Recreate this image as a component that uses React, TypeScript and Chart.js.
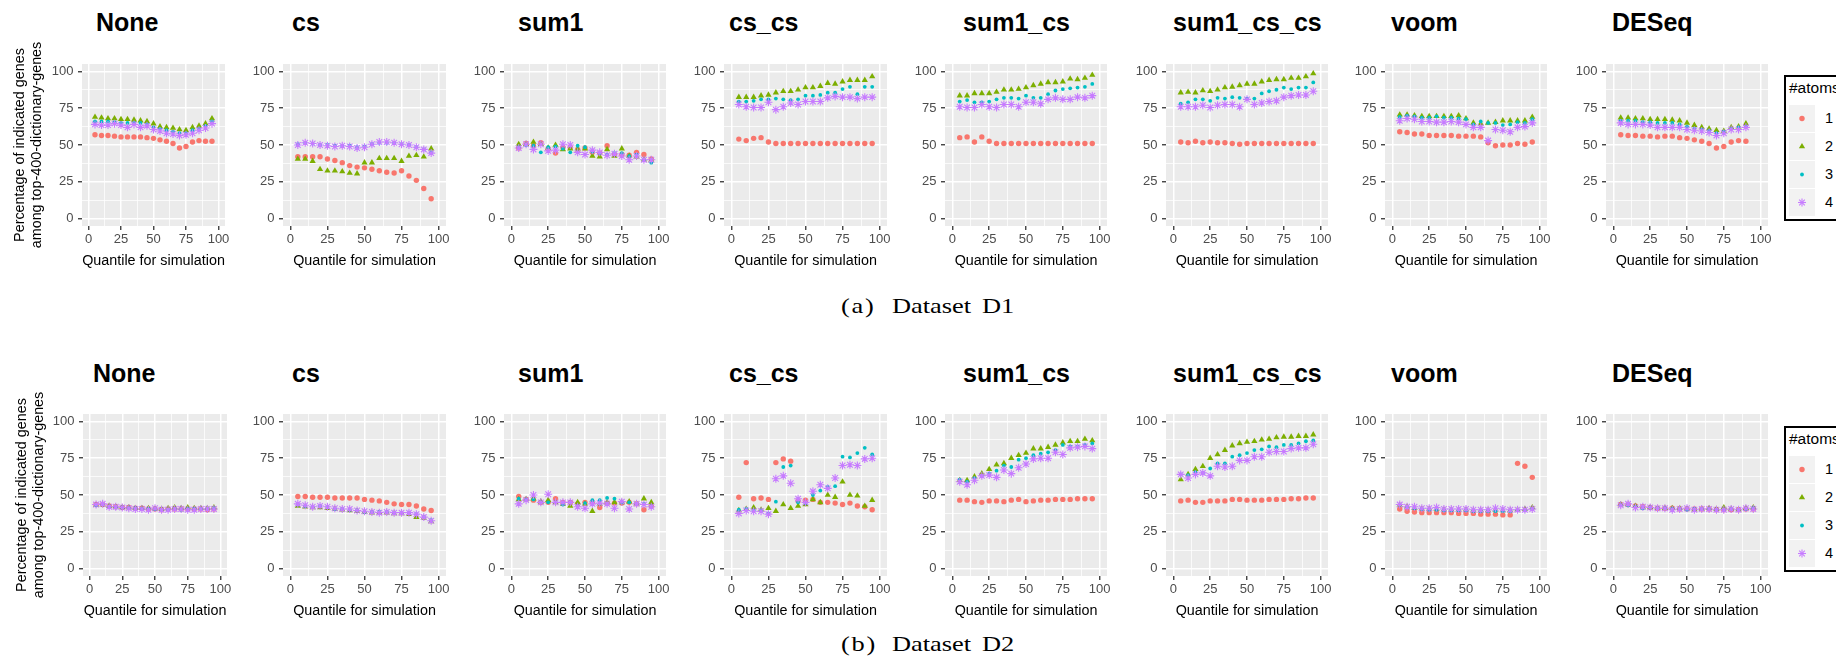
import React, { useEffect, useRef } from 'react';
import { Chart, registerables } from 'chart.js';

Chart.register(...registerables);

// ---- data -------------------------------------------------------------

const QUANTILES = [5, 10, 15, 20, 25, 30, 35, 40, 45, 50, 55, 60, 65, 70, 75, 80, 85, 90, 95];
const METHODS = ['None', 'cs', 'sum1', 'cs_cs', 'sum1_cs', 'sum1_cs_cs', 'voom', 'DESeq'];
const ATOM_LEVELS = ['1', '2', '3', '4'];
const AXIS_LABEL_TICKS = [0, 25, 50, 75, 100];
const GRID_TICKS = [0, 12.5, 25, 37.5, 50, 62.5, 75, 87.5, 100];
const X_TITLE = 'Quantile for simulation';
const Y_TITLE = ['Percentage of indicated genes', 'among top-400-dictionary-genes'];
const LEGEND_TITLE = '#atoms';
const CAPTIONS = [
  ['(a)', 'Dataset', 'D1'],
  ['(b)', 'Dataset', 'D2'],
];

// Dataset D1: one row per #atoms (1..4), one value per quantile
const D1_NONE = [
  [57, 56.5, 56.5, 56, 55.5, 55.5, 55.5, 55.5, 55, 54.5, 53.5, 52.5, 51, 48, 49, 52, 53, 52.5, 52.5],
  [69, 68.5, 68, 68, 67.5, 67.5, 67, 66.5, 66, 64.5, 62.5, 62, 61.5, 60.5, 60, 62, 63, 64.5, 68],
  [66, 66, 66, 65.5, 65, 65, 65, 65, 64, 62, 61, 60, 59, 58, 58, 60, 61, 63, 66],
  [64, 63.5, 63.5, 64.5, 63.5, 62, 64, 62, 63, 60.5, 59.5, 58, 57.5, 56.5, 57, 58, 60, 61.5, 64.5],
];
const D1_CS = [
  [42, 42, 42, 42, 40.5, 39.5, 38, 36, 35, 34.5, 33.5, 32.5, 31.5, 31, 32.5, 29, 26, 20.5, 13.5],
  [40.5, 40.5, 39, 33.5, 32.5, 32.5, 32, 31, 30.5, 38, 38, 41, 41, 41, 39, 42.5, 43, 42, 47.5],
  [50.5, 51.5, 51, 50, 50, 49.5, 49.5, 49.5, 48.5, 49, 50.5, 51.5, 51.5, 51.5, 50.5, 50, 48.5, 47, 45],
  [50, 51.5, 51, 50, 49.5, 49, 49.5, 49, 48, 48.5, 50.5, 52, 52, 51.5, 50.5, 50, 48.5, 47, 44.5],
];
const D1_SUM1 = [
  [48, 51, 49.5, 51.5, 47.5, 44.5, 48.5, 48.5, 47, 48, 45, 44.5, 49.5, 43.5, 43.5, 43, 45, 43.5, 40.5],
  [50.5, 50.5, 52, 50.5, 48, 50, 47, 47.5, 47, 47.5, 42.5, 42, 47, 42.5, 47.5, 42.5, 42, 40, 39.5],
  [48.5, 50, 49.5, 45, 48.5, 49, 47.5, 45, 49.5, 48.5, 45.5, 44.5, 43.5, 44.5, 44.5, 42.5, 43.5, 40, 38],
  [48, 50.5, 47, 50.5, 46, 46.5, 50.5, 50, 45, 43.5, 46.5, 45, 43, 44, 42.5, 40, 42.5, 40, 40],
];
const D1_CS_CS = [
  [54, 53, 54.5, 55, 52, 51, 51, 51, 51, 51, 51, 51, 51, 51, 51, 51, 51, 51, 51],
  [82.5, 82.5, 82.5, 83.5, 84, 85.5, 86.5, 86.5, 87.5, 89, 89, 90, 92, 91.5, 93, 94, 94, 94, 96.5],
  [79.5, 79.5, 80, 81, 81, 81.5, 81, 80.5, 81, 83.5, 83.5, 84, 85.5, 85.5, 88, 89.5, 84.5, 89.5, 89.5],
  [77.5, 76, 75.5, 75.5, 79, 74, 76, 78.5, 77.5, 79.5, 79.5, 79.5, 82, 83, 82.5, 82.5, 81.5, 82.5, 82.5],
];
const D1_SUM1_CS = [
  [55, 55.5, 52, 55.5, 52.5, 51, 51, 51, 51, 51, 51, 51, 51, 51, 51, 51, 51, 51, 51],
  [83.5, 83.5, 85, 85, 85, 86, 87.5, 87.5, 88, 89, 90.5, 91.5, 92.5, 92.5, 93, 95, 94.5, 95.5, 97.5],
  [79.5, 80.5, 79, 79, 79.5, 81, 82, 82, 81.5, 83.5, 82, 82, 84.5, 87, 88, 88.5, 89, 89.5, 91.5],
  [76, 75.5, 75.5, 77.5, 76, 75.5, 77.5, 77.5, 76, 79, 79, 78, 81, 82, 81, 81, 82.5, 82, 83.5],
];
const D1_SUM1_CS_CS = [
  [52, 51.5, 52.5, 51.5, 52, 51.5, 51.5, 51, 50.5, 51, 51, 51, 51, 51, 51, 51, 51, 51, 51],
  [85.5, 86, 85.5, 87, 86.5, 87.5, 89, 89.5, 90.5, 91.5, 91.5, 93, 94, 94.5, 94.5, 95.5, 95.5, 96.5, 98.5],
  [78, 79, 81, 81, 80, 82, 81.5, 82.5, 82, 81.5, 81.5, 85, 86.5, 87.5, 89, 88, 89, 89, 92.5],
  [76, 76, 76, 77, 75.5, 77, 77.5, 77.5, 76, 81, 77.5, 78.5, 79.5, 80, 82.5, 83.5, 84, 84, 86.5],
];
const D1_VOOM = [
  [59, 58.5, 57.5, 57.5, 56.5, 56.5, 56.5, 56.5, 56, 56, 56, 55.5, 51.5, 49.5, 50, 50, 51, 50.5, 52],
  [70.5, 70.5, 70, 69.5, 69.5, 69.5, 69.5, 69.5, 70, 68, 65, 64.5, 65, 65.5, 66.5, 66.5, 66.5, 66.5, 69],
  [69, 70, 69.5, 68.5, 68.5, 69.5, 68.5, 68.5, 68, 67.5, 64, 66, 65, 65, 63.5, 64, 65.5, 65, 67.5],
  [66.5, 68, 67.5, 66, 66, 65.5, 65.5, 66, 65.5, 64, 62, 62, 53, 60.5, 60, 59, 62, 62.5, 65],
];
const D1_DESEQ = [
  [57, 56.5, 56.5, 56, 56, 55.5, 56, 56, 55, 54.5, 53.5, 52.5, 51, 48, 49, 52, 53, 52.5, null],
  [68.5, 68.5, 68, 68, 67.5, 67.5, 67.5, 67, 66.5, 65, 63.5, 62, 61, 60, 59.5, 62, 62.5, 64.5, null],
  [66.5, 66.5, 66.5, 65.5, 65.5, 65, 65, 65, 64, 62.5, 61, 60.5, 59.5, 58, 59, 61, 62, 62.5, null],
  [65, 64, 64, 64, 63.5, 62, 62, 62, 62, 60.5, 60, 59.5, 58.5, 56.5, 58, 60.5, 60.5, 62, null],
];

// Dataset D2
const D2_NONE = [
  [43.5, 43.5, 42.5, 42, 41.5, 41.5, 41, 41, 40.5, 40.5, 40, 40.5, 40.5, 40.5, 40.5, 40.5, 40.5, 40, 40.5],
  [43, 43.5, 42.5, 42, 41.5, 41.5, 41, 41, 41, 40.5, 40.5, 41, 41.5, 41, 41.5, 41, 41, 41, 41.5],
  [43, 43.5, 42, 41.5, 41.5, 41, 41, 40.5, 40.5, 40.5, 40, 40, 40.5, 40, 40.5, 40.5, 40.5, 40.5, 41],
  [43.5, 44, 42, 42, 41.5, 41, 40.5, 40.5, 40, 41, 40, 40, 40.5, 40.5, 40, 40, 40.5, 40.5, 40.5],
];
const D2_CS = [
  [49, 49, 48.5, 48.5, 48.5, 48, 48, 48, 48, 47, 46.5, 46, 45, 44, 43.5, 43.5, 42.5, 40.5, 39.5],
  [42.5, 42, 41.5, 41.5, 41, 40.5, 40, 39.5, 39, 38.5, 38, 38, 38, 37.5, 37.5, 37, 35, 34.5, 32],
  [43.5, 42.5, 42, 42.5, 42, 40.5, 40.5, 40, 39.5, 38.5, 38.5, 38.5, 38.5, 38, 38, 38, 37, 35, 33],
  [44, 43, 42, 42.5, 42, 41, 40.5, 40.5, 39.5, 39, 38.5, 38, 38.5, 38, 38, 38, 37, 35, 32.5],
];
const D2_SUM1 = [
  [49, 47, 46.5, 45, 45, 47.5, 45, 45, 44, 45, 45, 41.5, 44.5, 44.5, 44.5, 45, 44, 40, 42.5],
  [47, 47, 47.5, 45.5, 46.5, 45, 44, 42.5, 45, 44, 39, 44, 45, 45, 45, 45.5, 44, 47.5, 45],
  [47.5, 47, 47, 45, 45, 45, 43.5, 45, 42.5, 44.5, 46.5, 46.5, 48, 47.5, 45, 45, 44, 44, 42.5],
  [44, 46.5, 50, 45, 50.5, 45, 45, 45, 42, 41, 44, 44.5, 44, 41, 45.5, 40.5, 44, 43.5, 42],
];
const D2_CS_CS = [
  [48.5, 72, 47.5, 48, 47, 72, 74.5, 73, 46, 46.5, 47, 45, 45, 44.5, 43.5, 44.5, 42.5, 42, 40],
  [39.5, 40.5, 41.5, 40, 41, 39, 43.5, 41, 42.5, 43.5, 47, 45, 50, 48.5, 59, 50, 49.5, 42.5, 46.5],
  [40, 40.5, 39.5, 39.5, 37.5, 45.5, 69, 70, 45, 44.5, 50, 53, 55.5, 56, 76, 75.5, 78.5, 82, 77.5],
  [37.5, 39.5, 39, 39, 37, 61, 63, 58, 47.5, 45, 52.5, 57, 54.5, 61.5, 70, 70.5, 70, 74.5, 75],
];
const D2_SUM1_CS = [
  [46.5, 46.5, 45.5, 45, 46, 46, 45.5, 46.5, 47, 45.5, 46, 46.5, 46.5, 47, 47, 47, 47.5, 47.5, 47.5],
  [60, 60, 62.5, 64.5, 67.5, 70.5, 71.5, 75, 77, 78.5, 81.5, 81.5, 82.5, 84, 85.5, 86.5, 86.5, 88, 87],
  [60.5, 59, 61.5, 63, 64.5, 66.5, 70, 69, 74, 75, 77, 78, 79, 80.5, 84, 83, 83, 84, 85],
  [59, 57, 60, 63, 63.5, 62, 67, 64.5, 68.5, 71, 74.5, 75, 75, 79, 77.5, 82, 82.5, 83, 81.5],
];
const D2_SUM1_CS_CS = [
  [46, 46.5, 45, 45, 46, 46, 46, 47, 47, 46.5, 46.5, 46.5, 47, 47, 47, 47.5, 47.5, 48, 48],
  [60.5, 64, 67.5, 69.5, 75, 77.5, 80.5, 83.5, 85, 86, 86.5, 87.5, 88, 89, 89.5, 89.5, 90, 90, 91],
  [64, 63.5, 65.5, 65, 68, 71.5, 71.5, 76, 77, 78.5, 80.5, 81, 83, 82.5, 84, 84, 85, 86.5, 87],
  [64, 61.5, 64, 65, 63, 69.5, 69, 69.5, 73.5, 73.5, 76, 76, 79, 79.5, 79.5, 81.5, 82, 82, 84.5],
];
const D2_VOOM = [
  [40.5, 39, 38.5, 38, 38, 38, 38, 38, 37.5, 37.5, 37.5, 37, 37, 37, 36.5, 36.5, 71.5, 69.5, 62],
  [43, 42, 41, 40.5, 40.5, 40.5, 40, 40, 40, 40, 39.5, 39.5, 39.5, 40, 39.5, 39.5, 40, 40.5, 41.5],
  [43.5, 42, 41, 40.5, 40, 40, 39.5, 39.5, 39.5, 39.5, 39, 39, 39, 39, 39, 39, 39.5, 39.5, 40.5],
  [43.5, 42, 42, 41, 41, 41.5, 40.5, 40.5, 40.5, 40.5, 40, 40, 40, 41, 40.5, 40, 40, 40, 40.5],
];
const D2_DESEQ = [
  [43.5, 43.5, 42.5, 42, 41.5, 41, 41, 41, 40.5, 40.5, 40.5, 40.5, 40.5, 40, 40, 40, 40, 40.5, 40.5],
  [43.5, 43.5, 42.5, 41.5, 41.5, 41, 41, 41, 41, 40.5, 40, 40.5, 41, 40.5, 41.5, 40.5, 40, 41, 41.5],
  [43, 43, 42, 41, 41.5, 41, 41, 40.5, 40.5, 40, 40.5, 40.5, 40.5, 40, 40, 40.5, 40, 40.5, 41],
  [43, 44, 41.5, 42, 41.5, 41, 41, 40, 40.5, 41, 40, 40.5, 40.5, 40, 40, 40.5, 40, 41, 40.5],
];

const D1_PANELS = [D1_NONE, D1_CS, D1_SUM1, D1_CS_CS, D1_SUM1_CS, D1_SUM1_CS_CS, D1_VOOM, D1_DESEQ];
const D2_PANELS = [D2_NONE, D2_CS, D2_SUM1, D2_CS_CS, D2_SUM1_CS, D2_SUM1_CS_CS, D2_VOOM, D2_DESEQ];
const DATASETS = [D1_PANELS, D2_PANELS];

// ---- styling ----------------------------------------------------------

const ATOM_COLORS = ['#F8766D', '#7CAE00', '#00BFC4', '#C77CFF'];
const ATOM_MARKERS = [
  { style: 'circle', radius: 2.7, border: 0 },
  { style: 'triangle', radius: 3.6, border: 0 },
  { style: 'circle', radius: 1.9, border: 0 },
  { style: 'star', radius: 4, border: 1.1 },
];

function fontAvailable(name: string): boolean {
  const ctx = document.createElement('canvas').getContext('2d');
  if (!ctx) return false;
  const sample = 'Quantile for simulation 0123456789';
  ctx.font = '40px monospace';
  const base = ctx.measureText(sample).width;
  ctx.font = `40px "${name}", monospace`;
  return ctx.measureText(sample).width !== base;
}

const HAS_NARROW = fontAvailable('Liberation Sans Narrow');
const SANS_NARROW = HAS_NARROW
  ? '"Liberation Sans Narrow", "Liberation Sans", Arial, sans-serif'
  : '"Liberation Sans", Arial, sans-serif';
const SANS = '"Liberation Sans", Arial, sans-serif';
const SERIF = '"Liberation Serif", "Times New Roman", serif';

const TICK_FONT_SIZE = HAS_NARROW ? 14.5 : 13;
const AXIS_TITLE_SIZE = HAS_NARROW ? 17.5 : 14.35;
const LEGEND_LABEL_SIZE = 14.5;
const LEGEND_TITLE_SIZE = HAS_NARROW ? 17.5 : 15.5;
const TICK_TEXT = '#4D4D4D';
const TICK_MARK = '#333333';

// panel geometry (page pixels)
const PLOT_TOP = [64, 414];
const PLOT_BOTTOM = [226, 576];
const PLOT_X = [
  [82, 225], [283, 446], [504, 666], [724, 887],
  [945, 1107], [1166, 1328], [1385, 1547], [1606, 1768],
];
const FIRST_PLOT_X = [[82, 225], [83, 227]];
const PAD_TOP = 30;
const PAD_RIGHT = 14;
const X_AXIS_HEIGHT = 50;
const Y_AXIS_WIDTH = 40;

const TITLE_LEFT = [
  [96, 292, 518, 729, 963, 1173, 1391, 1612],
  [93, 292, 518, 729, 963, 1173, 1391, 1612],
];
const TITLE_CENTER_Y = [22.5, 373];
const LEGEND_TOP = [75, 426];
const CAPTION_BASELINE = [313.3, 651];

const panelBackground = {
  id: 'panelBackground',
  beforeDraw(chart: any) {
    const { ctx, chartArea: a } = chart;
    ctx.save();
    ctx.fillStyle = '#EBEBEB';
    ctx.fillRect(a.left, a.top, a.right - a.left, a.bottom - a.top);
    ctx.restore();
  },
};

const isMajor = (v: number) => AXIS_LABEL_TICKS.includes(v);

function axisOptions(axis: 'x' | 'y', withTitle: boolean, fixedSize: number, titlePad: number) {
  return {
    type: 'linear',
    position: axis === 'x' ? 'bottom' : 'left',
    min: -5,
    max: 105,
    afterBuildTicks: (scale: any) => {
      scale.ticks = GRID_TICKS.map((v) => ({ value: v }));
    },
    afterFit: (scale: any) => {
      if (axis === 'x') scale.height = fixedSize;
      else scale.width = fixedSize;
    },
    border: { display: false },
    grid: {
      color: '#FFFFFF',
      lineWidth: (c: any) => (c.tick && isMajor(c.tick.value) ? 1.5 : 0.75),
      drawTicks: true,
      tickLength: 4,
      tickWidth: 1.3,
      tickColor: (c: any) => (c.tick && isMajor(c.tick.value) ? TICK_MARK : 'rgba(0,0,0,0)'),
    },
    ticks: {
      autoSkip: false,
      maxRotation: 0,
      minRotation: 0,
      padding: axis === 'x' ? 1.5 : 4.5,
      color: TICK_TEXT,
      font: { family: SANS_NARROW, size: TICK_FONT_SIZE },
      callback: (v: any) => (isMajor(Number(v)) ? String(v) : ''),
    },
    title: {
      display: withTitle,
      text: axis === 'x' ? X_TITLE : Y_TITLE,
      color: '#000000',
      font: { family: SANS_NARROW, size: AXIS_TITLE_SIZE, lineHeight: 17 / AXIS_TITLE_SIZE },
      padding: axis === 'x' ? { top: 0, bottom: titlePad } : { top: titlePad, bottom: 0 },
    },
  };
}

function Panel({ row, col }: { row: number; col: number }) {
  const ref = useRef<HTMLCanvasElement | null>(null);
  const [plotLeft, plotRight] = col === 0 ? FIRST_PLOT_X[row] : PLOT_X[col];
  const left = col === 0 ? 0 : plotLeft - Y_AXIS_WIDTH;
  const top = PLOT_TOP[row] - PAD_TOP;
  const width = plotRight + PAD_RIGHT - left;
  const height = PLOT_BOTTOM[row] + X_AXIS_HEIGHT - top;
  const yAxisWidth = plotLeft - left;

  useEffect(() => {
    const series = DATASETS[row][col];
    const datasets = series.map((vals: (number | null)[], k: number) => ({
      label: ATOM_LEVELS[k],
      data: QUANTILES.map((q, i) => ({ x: q, y: vals[i] })).filter((p) => p.y !== null),
      showLine: false,
      order: ATOM_LEVELS.length - k,
      pointStyle: ATOM_MARKERS[k].style,
      pointRadius: ATOM_MARKERS[k].radius,
      pointHoverRadius: ATOM_MARKERS[k].radius,
      pointBorderWidth: ATOM_MARKERS[k].border,
      pointBackgroundColor: ATOM_COLORS[k],
      pointBorderColor: ATOM_COLORS[k],
    }));
    const chart = new Chart(ref.current as HTMLCanvasElement, {
      type: 'scatter',
      data: { datasets },
      options: {
        animation: false,
        responsive: false,
        maintainAspectRatio: false,
        events: [],
        layout: { padding: { top: PAD_TOP, right: PAD_RIGHT, bottom: 0, left: 0 } },
        plugins: {
          legend: { display: false },
          tooltip: { enabled: false },
          title: { display: false },
        },
        scales: {
          x: axisOptions('x', true, X_AXIS_HEIGHT, 6.5),
          y: axisOptions('y', col === 0, yAxisWidth, row === 0 ? 12 : 13.5),
        },
      } as any,
      plugins: [panelBackground],
    } as any);
    return () => chart.destroy();
  }, [row, col, width, height, yAxisWidth]);

  return (
    <canvas
      ref={ref}
      width={width}
      height={height}
      style={{ position: 'absolute', left, top, width, height, display: 'block' }}
    />
  );
}

function PanelTitle({ row, col }: { row: number; col: number }) {
  const size = 25;
  return (
    <div
      style={{
        position: 'absolute',
        left: TITLE_LEFT[row][col],
        top: TITLE_CENTER_Y[row] - 0.49 * size,
        fontFamily: SANS,
        fontWeight: 'bold',
        fontSize: size,
        lineHeight: `${size}px`,
        whiteSpace: 'nowrap',
        color: '#000',
      }}
    >
      {METHODS[col]}
    </div>
  );
}

function LegendKey({ k }: { k: number }) {
  const c = ATOM_COLORS[k];
  const cx = 13;
  const cy = 13.5;
  let shape: React.ReactNode = null;
  if (ATOM_MARKERS[k].style === 'circle') {
    shape = <circle cx={cx} cy={cy} r={ATOM_MARKERS[k].radius} fill={c} />;
  } else if (ATOM_MARKERS[k].style === 'triangle') {
    const r = ATOM_MARKERS[k].radius;
    const pts = [
      [cx, cy - r],
      [cx + r * 0.866, cy + r * 0.5],
      [cx - r * 0.866, cy + r * 0.5],
    ]
      .map((p) => p.join(','))
      .join(' ');
    shape = <polygon points={pts} fill={c} />;
  } else {
    const r = ATOM_MARKERS[k].radius;
    const d = r * Math.SQRT1_2;
    shape = (
      <g stroke={c} strokeWidth={ATOM_MARKERS[k].border}>
        <line x1={cx - r} y1={cy} x2={cx + r} y2={cy} />
        <line x1={cx} y1={cy - r} x2={cx} y2={cy + r} />
        <line x1={cx - d} y1={cy - d} x2={cx + d} y2={cy + d} />
        <line x1={cx - d} y1={cy + d} x2={cx + d} y2={cy - d} />
      </g>
    );
  }
  return (
    <svg width={26} height={27} style={{ display: 'block', background: '#F2F2F2' }}>
      {shape}
    </svg>
  );
}

function Legend({ row }: { row: number }) {
  const keyTops = [28, 56, 84, 112];
  return (
    <div
      style={{
        position: 'absolute',
        left: 1784,
        top: LEGEND_TOP[row],
        width: 80,
        height: 146,
        border: '2px solid #000',
        boxSizing: 'border-box',
        background: '#fff',
      }}
    >
      <div
        style={{
          position: 'absolute',
          left: 3,
          top: 11 - 0.49 * LEGEND_TITLE_SIZE,
          fontFamily: SANS_NARROW,
          fontSize: LEGEND_TITLE_SIZE,
          lineHeight: `${LEGEND_TITLE_SIZE}px`,
          whiteSpace: 'nowrap',
          color: '#000',
        }}
      >
        {LEGEND_TITLE}
      </div>
      {ATOM_LEVELS.map((lvl, k) => (
        <React.Fragment key={lvl}>
          <div style={{ position: 'absolute', left: 3, top: keyTops[k] }}>
            <LegendKey k={k} />
          </div>
          <div
            style={{
              position: 'absolute',
              left: 39,
              top: keyTops[k] + 13.5 - 0.49 * LEGEND_LABEL_SIZE,
              fontFamily: SANS_NARROW,
              fontSize: LEGEND_LABEL_SIZE,
              lineHeight: `${LEGEND_LABEL_SIZE}px`,
              color: '#000',
            }}
          >
            {lvl}
          </div>
        </React.Fragment>
      ))}
    </div>
  );
}

function Caption({ row }: { row: number }) {
  const size = 22;
  const top = CAPTION_BASELINE[row] - 18.4;
  const parts = CAPTIONS[row];
  const lefts = [840.5, 891.7, 981.7];
  return (
    <>
      {parts.map((p, i) => (
        <div
          key={i}
          style={{
            position: 'absolute',
            left: lefts[i],
            top,
            fontFamily: SERIF,
            fontSize: size,
            lineHeight: `${size}px`,
            whiteSpace: 'nowrap',
            letterSpacing: i === 0 ? 1.5 : 0,
            transform: 'scaleX(1.2)',
            transformOrigin: 'left center',
            color: '#000',
          }}
        >
          {p}
        </div>
      ))}
    </>
  );
}

export default function App() {
  return (
    <div
      style={{
        position: 'absolute',
        left: 0,
        top: 0,
        width: 1836,
        height: 670,
        overflow: 'hidden',
        background: '#ffffff',
      }}
    >
      {[0, 1].map((row) => (
        <React.Fragment key={row}>
          {METHODS.map((m, col) => (
            <React.Fragment key={m}>
              <PanelTitle row={row} col={col} />
              <Panel row={row} col={col} />
            </React.Fragment>
          ))}
          <Legend row={row} />
          <Caption row={row} />
        </React.Fragment>
      ))}
    </div>
  );
}
